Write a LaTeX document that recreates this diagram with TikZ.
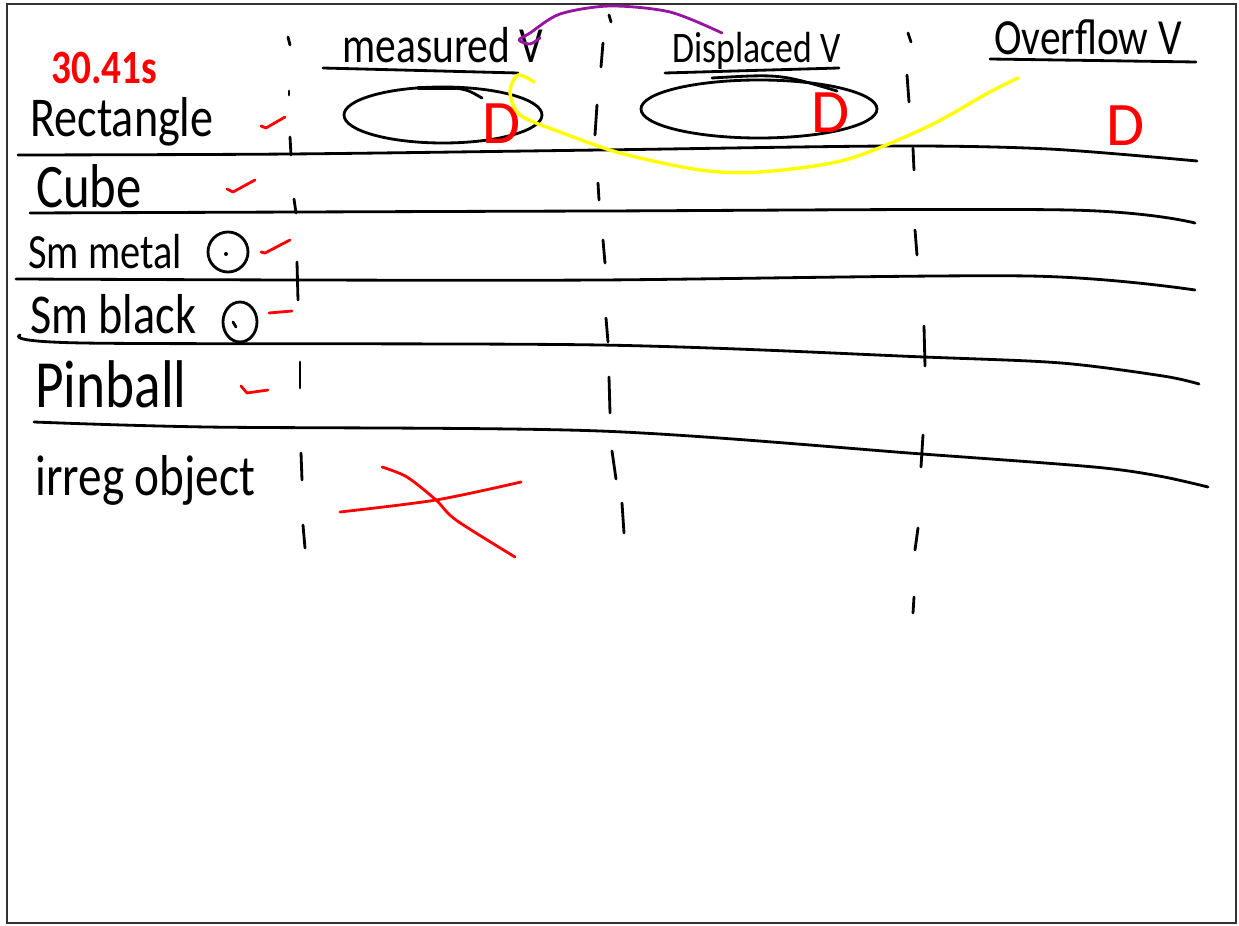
\documentclass[tikz,border=0pt]{standalone}
\usepackage{fontspec}
\setmainfont{Carlito}
\newfontfamily\handfont[FakeStretch=0.82]{Carlito}
\definecolor{inkred}{RGB}{255,0,0}
\definecolor{inkpurple}{RGB}{150,20,160}
\definecolor{inkyellow}{RGB}{255,255,0}
\definecolor{framegray}{RGB}{50,50,50}
\tikzset{
  pen/.style={line width=2pt,line cap=round,line join=round},
  redpen/.style={pen,draw=inkred},
  hand/.style={inner sep=0pt,anchor=base west,font=\handfont\fontsize{#1}{#1}\selectfont},
  redD/.style={inner sep=0pt,anchor=base west,text=inkred,font=\fontsize{44}{44}\selectfont},
}

\begin{document}
\begin{tikzpicture}[x=0.025cm,y=-0.025cm]
\useasboundingbox (0,0) rectangle (1239,926);
\fill[white] (0,0) rectangle (1239,926);
\draw[framegray,line width=1.5pt] (7,4) rectangle (1236,923);

% row labels
\node[hand=34,text=inkred] (time) at (51,84) {\bfseries 30.41s};
\node[hand=40] (rect) at (30,137) {Rectangle};
\node[hand=44] (cube) at (36,208) {Cube};
\node[hand=35] (metal) at (28,269) {Sm metal};
\node[hand=40] (black) at (30,333) {Sm black};
\node[hand=48] (pinball) at (35,407) {Pinball};
\node[hand=41] (irreg) at (35,495) {irreg object};

% column heads
\node[hand=36] (measured) at (342,63) {measured V};
\node[hand=31] (displaced) at (672,63) {Displaced V};
\node[hand=36] (overflow) at (994,55) {Overflow V};
\draw[pen] (323,68) -- (518,73);
\draw[pen] (665,73) -- (839,68);
\draw[pen] (990,59) -- (1196,62);

% rows
\draw[pen] plot[smooth] coordinates {(18,155) (290,154) (600,150) (894,146) (1049,149) (1197,161)};
\draw[pen] plot[smooth] coordinates {(30,213) (300,212) (600,211) (1069,210) (1195,223)};
\draw[pen] plot[smooth] coordinates {(16,279) (300,280) (600,280) (1029,276) (1195,290)};
\draw[pen] plot[smooth] coordinates {(20,335) (83,343) (600,345) (924,357) (1061,363) (1163,376) (1199,384)};
\draw[pen] plot[smooth] coordinates {(34,422) (207,427) (600,431) (922,454) (1094,467) (1159,476) (1208,487)};

% dashed column rules
\foreach \xa/\ya/\xb/\yb in {288/37/290/45, 289/91/289/95, 290/137/291/155, 294/199/296/213,
  297/262/298/300, 300/362/300/388, 301/453/302/480, 303/525/305/548,
  609/15/611/22, 603/43/601/67, 597/105/595/135, 598/183/599/200, 603/240/605/263,
  606/318/608/342, 609/377/610/413, 612/451/616/479, 622/503/624/533,
  908/33/911/42, 907/75/909/102, 913/148/914/170, 915/230/917/255,
  924/326/925/366, 923/435/921/467, 918/528/915/550, 914/597/913/613}
  \draw[pen] (\xa,\ya) -- (\xb,\yb);

% ellipses and marks
\draw[pen] (443,115) ellipse [x radius=99,y radius=28];
\draw[line width=3.5pt,line cap=round] (419,88) -- (455,88);
\draw[pen] (455,88) .. controls (468,90) .. (482,98);
\draw[pen] (759,109) ellipse [x radius=118,y radius=29];
\draw[pen] (712,78) .. controls (780,74) .. (837,91);
\node[redD] (d1) at (482,144) {D};
\node[redD] (d2) at (811,133) {D};
\node[redD] (d3) at (1106,146) {D};

% circles after the labels
\draw[pen] (228,252) circle [radius=20];
\fill (226,254) circle [radius=2];
\draw[pen] (240,322) ellipse [x radius=17,y radius=20];
\draw[pen] (233,322) -- (236,327);

% checks
\draw[redpen] (261,126) -- (266,128) -- (285,117);
\draw[redpen] (227,189) -- (233,192) -- (255,180);
\draw[redpen] (261,252) -- (265,253) -- (290,240);
\draw[redpen] (269,313) -- (292,311);
\draw[redpen] (241,386) -- (247,393) -- (268,390);
\draw[redpen] plot[smooth] coordinates {(340,512) (436,500) (521,482)};
\draw[redpen] plot[smooth] coordinates {(382,467) (407,477) (436,500) (456,520) (515,557)};

% arrows of colour
\draw[pen,draw=inkpurple] plot[smooth] coordinates {(722,33) (670,12) (610,6) (560,14) (530,33) (519,40) (530,44) (540,38)};
\draw[pen,draw=inkyellow,line width=2.4pt] plot[smooth] coordinates {(534,82) (518,75) (510,92) (520,115) (560,132) (620,153) (700,170) (760,172) (845,160) (927,127) (988,93) (1018,78)};
\end{tikzpicture}
\end{document}
